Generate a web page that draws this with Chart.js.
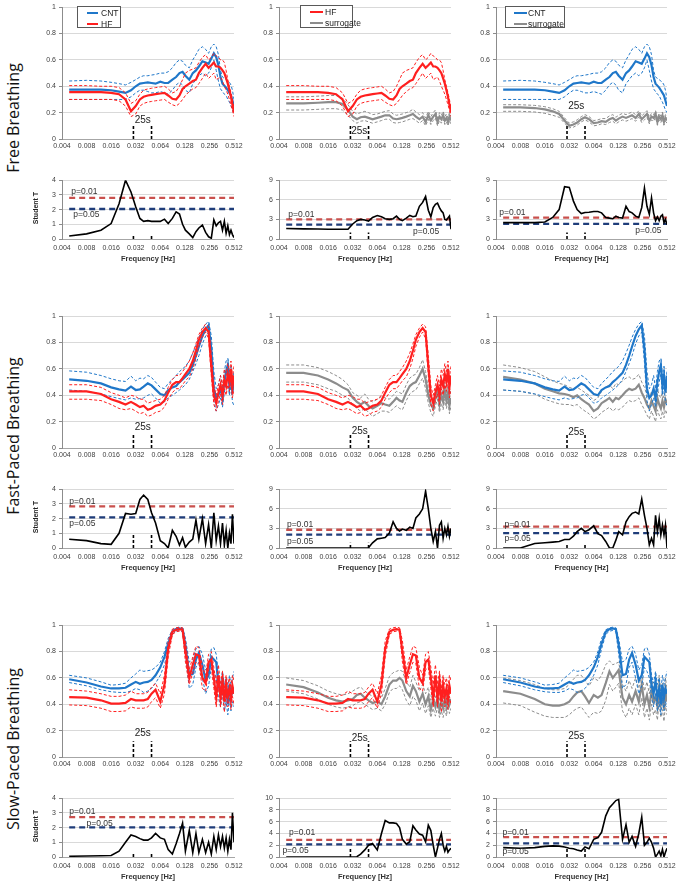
<!DOCTYPE html>
<html><head><meta charset="utf-8">
<script src="https://cdn.jsdelivr.net/npm/chart.js@4.4.1/dist/chart.umd.min.js"></script>
<style>
html,body{margin:0;padding:0;background:#fff}
body{width:685px;height:881px;position:relative;overflow:hidden}
canvas{position:absolute}
.rowtitle{position:absolute;font-family:'Open Sans','Noto Sans',sans-serif;font-size:16px;color:#111;white-space:nowrap;transform:translate(-50%,-50%) rotate(-90deg)}
.ylab{position:absolute;font-family:'Liberation Sans',Arial,sans-serif;font-weight:bold;font-size:7px;color:#222;white-space:nowrap;transform:translate(-50%,-50%) rotate(-90deg)}
.legend{position:absolute;border:1px solid #595959;background:#fff;box-sizing:border-box}
.legend .txt{position:absolute;font-family:'Liberation Sans',Arial,sans-serif;font-size:8.5px;color:#222;line-height:10px;height:10px;white-space:nowrap}
.legend .sw{position:absolute;height:2px}
</style></head><body>
<script>
// ---------------- DATA ----------------
const FREQ = [0.0049,0.008,0.012,0.016,0.02,0.024,0.028,0.032,0.036,0.04,
  0.045,0.05,0.056,0.064,0.072,0.08,0.09,0.1,0.11,0.12,
  0.13,0.145,0.16,0.175,0.19,0.21,0.23,0.25,0.27,0.29,
  0.31,0.33,0.35,0.37,0.39,0.41,0.43,0.45,0.47,0.49,
  0.512];
const X_TICKS = [0.004,0.008,0.016,0.032,0.064,0.128,0.256,0.512];
const X_TICK_LABELS = ['0.004','0.008','0.016','0.032','0.064','0.128','0.256','0.512'];
const MARK_25S = [0.03, 0.05];
const ROW_TITLES = ['Free Breathing','Fast-Paced Breathing','Slow-Paced Breathing'];

// Free breathing coherence
const FREE_CNT_MEAN = [.375,.375,.375,.37,.36,.35,.37,.40,.42,.425, .43,.425,.42,.435,.425,.425,.45,.47,.50,.51, .48,.45,.50,.52,.55,.59,.58,.57,.61,.65, .62,.56,.47,.42,.405,.39,.37,.35,.33,.29, .25];
const FREE_CNT_UP   = [.44,.445,.44,.43,.42,.41,.43,.45,.47,.48, .48,.485,.49,.50,.50,.51,.54,.58,.60,.59, .56,.54,.60,.64,.68,.70,.68,.65,.70,.72, .70,.64,.52,.47,.46,.45,.44,.43,.41,.37, .30];
const FREE_CNT_LO   = [.30,.30,.30,.30,.30,.30,.32,.35,.37,.37, .36,.35,.35,.36,.35,.34,.37,.41,.43,.41, .37,.35,.42,.45,.48,.50,.48,.50,.54,.60, .52,.44,.38,.36,.34,.33,.30,.28,.25,.22, .20];
const FREE_HF_MEAN  = [.355,.355,.355,.35,.34,.30,.21,.25,.30,.32, .33,.335,.34,.345,.35,.33,.305,.30,.33,.38, .40,.42,.44,.45,.50,.54,.57,.54,.56,.58, .55,.55,.54,.52,.50,.46,.42,.37,.32,.26, .20];
const FREE_HF_UP    = [.405,.405,.40,.40,.39,.35,.27,.29,.34,.37, .38,.385,.39,.395,.40,.38,.35,.36,.40,.45, .50,.52,.53,.54,.58,.62,.64,.60,.62,.65, .63,.62,.60,.60,.58,.52,.45,.40,.35,.30, .23];
const FREE_HF_LO    = [.30,.30,.30,.30,.29,.25,.17,.19,.25,.27, .28,.285,.29,.295,.30,.28,.26,.25,.27,.30, .33,.36,.38,.39,.42,.46,.50,.46,.48,.50, .45,.46,.47,.44,.40,.37,.34,.30,.26,.22, .17];
const FREE_SHF_MEAN = [.27,.27,.275,.28,.28,.265,.22,.17,.15,.165, .17,.16,.15,.16,.17,.18,.18,.155,.15,.155, .16,.17,.18,.19,.17,.15,.17,.13,.18,.14, .17,.19,.13,.17,.15,.18,.14,.16,.13,.17, .14];
const FREE_SHF_UP   = [.32,.32,.325,.33,.33,.31,.26,.21,.19,.20, .21,.20,.185,.19,.20,.21,.215,.19,.18,.185, .19,.20,.21,.225,.205,.185,.20,.16,.21,.17, .20,.22,.16,.20,.18,.21,.17,.19,.16,.20, .17];
const FREE_SHF_LO   = [.22,.22,.225,.23,.23,.22,.18,.14,.12,.135, .14,.13,.12,.13,.14,.15,.15,.125,.12,.125, .13,.14,.15,.155,.14,.12,.14,.10,.15,.11, .14,.16,.10,.14,.12,.15,.11,.13,.10,.14, .11];
const FREE_SCNT_MEAN= [.24,.24,.235,.225,.21,.19,.14,.10,.11,.125, .15,.165,.15,.12,.125,.135,.13,.15,.16,.14, .155,.17,.16,.17,.18,.16,.19,.15,.17,.19, .14,.17,.16,.19,.13,.17,.15,.18,.13,.16, .14];
const FREE_SCNT_UP  = [.26,.26,.255,.245,.23,.21,.16,.12,.13,.145, .17,.185,.17,.14,.145,.155,.155,.175,.185,.165, .18,.195,.185,.195,.205,.185,.215,.175,.195,.215, .165,.195,.185,.215,.155,.195,.175,.205,.155,.185, .16];
const FREE_SCNT_LO  = [.21,.21,.205,.195,.18,.165,.12,.085,.09,.105, .13,.145,.13,.10,.105,.115,.11,.125,.135,.115, .13,.145,.135,.145,.155,.135,.165,.125,.145,.165, .115,.145,.135,.165,.105,.145,.125,.155,.105,.135, .12];
// Free breathing Student T
const FREE_T_CNT_HF   = [.2,.35,.6,1.05,2.4,4.0,3.2,2.2,1.4,1.2, 1.25,1.2,1.2,1.2,1.35,1.05,1.4,1.85,1.7,1.0, .6,.35,.1,.5,.75,.95,.45,.15,.05,1.3, .9,1.1,1.2,.6,1.2,.4,.9,.3,.6,.3, .1];
const FREE_T_HF_SURR  = [1.6,1.55,1.52,1.5,1.5,1.5,1.5,2.3,2.8,3.0, 2.9,2.75,3.3,3.6,3.4,3.1,3.0,3.1,3.5,3.0, 2.8,3.2,3.6,3.4,3.5,5.0,5.6,6.5,4.4,3.4, 4.8,5.3,5.5,4.8,4.3,4.0,3.0,2.9,3.2,3.5, 1.5];
const FREE_T_CNT_SURR = [2.5,2.5,2.5,2.6,3.3,4.5,8.0,7.9,5.8,4.5, 3.9,4.05,4.1,4.2,4.2,4.0,3.3,3.2,3.1,3.5, 3.3,3.2,5.0,4.2,4.0,3.5,3.3,4.8,7.8,5.0, 3.8,6.3,4.0,2.8,3.4,2.8,3.5,3.7,2.5,3.0, 2.2];
const FREE_P01 = [2.8, 2.99, 3.28];
const FREE_P05 = [2.04, 2.2, 2.3];

// Fast-paced breathing coherence
const FAST_CNT_MEAN = [.52,.51,.49,.46,.445,.435,.465,.44,.445,.465, .49,.475,.445,.41,.40,.44,.46,.47,.50,.52, .54,.57,.63,.70,.77,.85,.90,.93,.75,.45, .38,.40,.45,.38,.50,.58,.63,.47,.55,.42, .55];
const FAST_CNT_UP   = [.585,.575,.55,.525,.51,.505,.545,.51,.53,.525, .55,.535,.50,.46,.45,.49,.52,.55,.58,.60, .62,.66,.72,.78,.84,.90,.94,.96,.85,.58, .45,.48,.55,.45,.58,.66,.68,.55,.62,.48, .58];
const FAST_CNT_LO   = [.44,.43,.41,.39,.375,.365,.38,.37,.375,.38, .40,.41,.38,.34,.35,.38,.40,.42,.44,.46, .48,.52,.58,.64,.70,.79,.85,.88,.65,.36, .28,.33,.38,.31,.42,.50,.56,.40,.47,.35, .32];
const FAST_HF_MEAN  = [.43,.43,.41,.37,.35,.33,.35,.33,.31,.32, .29,.30,.32,.33,.36,.42,.48,.50,.50,.53, .56,.60,.66,.74,.82,.88,.91,.88,.62,.40, .34,.42,.48,.40,.52,.47,.56,.50,.60,.46, .55];
const FAST_HF_UP    = [.48,.48,.46,.42,.40,.38,.40,.39,.37,.37, .34,.35,.36,.37,.40,.46,.52,.55,.55,.58, .61,.66,.72,.79,.86,.91,.94,.92,.70,.47, .40,.48,.55,.47,.60,.55,.64,.58,.66,.54, .62];
const FAST_HF_LO    = [.37,.37,.36,.33,.30,.29,.30,.28,.26,.27, .24,.25,.27,.28,.31,.37,.42,.45,.45,.48, .51,.54,.60,.68,.77,.84,.88,.83,.55,.33, .28,.36,.41,.33,.45,.40,.48,.43,.52,.38, .45];
const FAST_SHF_MEAN = [.57,.57,.55,.52,.49,.46,.44,.38,.35,.33, .35,.32,.30,.32,.34,.33,.32,.35,.38,.36, .35,.42,.47,.49,.50,.55,.60,.52,.40,.33, .30,.38,.43,.33,.40,.35,.44,.36,.42,.32, .38];
const FAST_SHF_UP   = [.63,.63,.61,.58,.55,.52,.48,.42,.40,.38, .41,.37,.35,.37,.39,.38,.37,.40,.43,.42, .41,.48,.53,.55,.56,.61,.67,.58,.45,.38, .35,.44,.49,.38,.46,.41,.50,.42,.48,.37, .44];
const FAST_SHF_LO   = [.50,.50,.48,.45,.43,.40,.38,.33,.30,.28, .30,.27,.24,.26,.28,.28,.27,.30,.32,.30, .29,.36,.41,.43,.44,.49,.53,.45,.34,.27, .24,.32,.37,.27,.34,.29,.37,.30,.36,.26, .32];
const FAST_SCNT_MEAN= [.54,.52,.49,.45,.43,.415,.41,.40,.385,.40, .37,.35,.33,.28,.30,.34,.36,.38,.35,.38, .37,.40,.43,.45,.44,.45,.48,.42,.38,.33, .30,.36,.32,.28,.38,.33,.30,.36,.31,.37, .34];
const FAST_SCNT_UP  = [.63,.61,.58,.54,.51,.49,.48,.46,.45,.46, .44,.42,.40,.36,.38,.43,.46,.48,.45,.49, .48,.51,.53,.54,.52,.53,.56,.50,.46,.40, .37,.43,.40,.35,.45,.40,.38,.43,.38,.44, .41];
const FAST_SCNT_LO  = [.44,.43,.41,.37,.35,.335,.33,.33,.32,.33, .30,.28,.26,.22,.24,.27,.29,.31,.28,.30, .29,.31,.34,.36,.35,.36,.38,.33,.29,.25, .22,.28,.24,.20,.29,.25,.22,.28,.23,.29, .26];
// Fast-paced Student T
const FAST_T_CNT_HF   = [.6,.5,.3,.25,1.0,2.35,2.3,2.35,3.3,3.6, 3.3,2.4,1.7,.5,.3,0,1.2,.8,.2,.7, .05,.4,.6,1.9,.6,2.0,.3,1.6,0,2.4, .5,1.5,.3,1.7,.2,1.2,0,1.0,.3,2.3, .3];
const FAST_T_HF_SURR  = [0,0,0,0,0,0,0,0,0,0, 0,.05,.8,1.4,1.5,1.6,2.3,4.0,3.0,2.6, 2.9,2.7,3.2,3.0,4.6,5.2,6.0,8.7,6.0,3.0, 1.0,2.5,0,3.5,4.0,1.5,3.0,2.0,3.3,1.8, 3.0];
const FAST_T_CNT_SURR = [0,0,.7,.8,.9,1.0,1.3,1.3,1.8,2.5, 3.0,2.5,2.8,3.4,2.2,1.9,1.0,0,0,1.2, 2.5,2.0,4.0,4.8,5.3,5.5,5.2,7.5,5.0,3.0, .5,1.5,.5,5.0,2.5,4.5,2.0,3.5,2.0,3.5, 0];
const FAST_P01 = [2.83, 2.79, 3.28];
const FAST_P05 = [2.08, 2.04, 2.29];

// Slow-paced breathing coherence
const SLOW_CNT_MEAN = [.59,.565,.535,.52,.52,.525,.55,.57,.555,.565, .57,.585,.62,.68,.76,.86,.95,.97,.975,.97, .85,.62,.63,.74,.79,.70,.58,.62,.76,.74, .72,.55,.48,.58,.45,.52,.40,.55,.45,.52, .48];
const SLOW_CNT_UP   = [.62,.60,.57,.545,.55,.56,.60,.63,.66,.65, .655,.66,.68,.72,.80,.90,.965,.98,.985,.98, .90,.72,.74,.82,.84,.78,.66,.70,.82,.83, .78,.62,.56,.65,.55,.60,.50,.62,.55,.60, .65];
const SLOW_CNT_LO   = [.565,.54,.51,.495,.49,.49,.50,.52,.51,.49, .50,.52,.56,.62,.70,.82,.93,.955,.96,.95, .78,.52,.55,.68,.72,.60,.48,.54,.68,.65, .60,.45,.38,.48,.35,.42,.32,.45,.35,.42, .38];
const SLOW_HF_MEAN  = [.455,.45,.43,.405,.405,.41,.44,.43,.43,.43, .44,.48,.51,.42,.55,.82,.95,.965,.97,.965, .80,.60,.70,.78,.77,.60,.56,.72,.74,.60, .45,.62,.45,.58,.42,.55,.46,.52,.44,.54, .48];
const SLOW_HF_UP    = [.51,.50,.48,.46,.46,.47,.50,.48,.48,.48, .49,.53,.56,.48,.62,.88,.97,.98,.985,.98, .88,.66,.76,.84,.83,.68,.62,.78,.80,.68, .55,.70,.55,.65,.52,.62,.55,.60,.52,.62, .58];
const SLOW_HF_LO    = [.395,.39,.37,.345,.345,.35,.38,.37,.37,.37, .38,.42,.45,.37,.48,.76,.93,.95,.955,.95, .72,.55,.64,.72,.71,.52,.50,.66,.68,.52, .38,.54,.38,.50,.34,.48,.38,.45,.36,.46, .40];
const SLOW_SHF_MEAN = [.55,.53,.49,.45,.43,.42,.43,.44,.47,.48, .45,.43,.41,.42,.40,.46,.55,.58,.58,.60, .58,.50,.46,.54,.50,.42,.48,.40,.46,.36, .44,.38,.45,.36,.42,.37,.44,.38,.46,.40, .44];
const SLOW_SHF_UP   = [.60,.58,.54,.50,.48,.47,.48,.50,.52,.53, .50,.48,.46,.47,.45,.52,.61,.64,.65,.66, .65,.57,.53,.62,.57,.50,.55,.48,.53,.43, .51,.45,.52,.43,.49,.44,.51,.45,.53,.47, .50];
const SLOW_SHF_LO   = [.50,.48,.44,.40,.38,.37,.38,.39,.41,.42, .40,.38,.36,.37,.35,.40,.49,.52,.52,.54, .51,.43,.39,.46,.43,.35,.41,.33,.39,.30, .37,.31,.38,.30,.35,.30,.37,.31,.39,.33, .37];
const SLOW_SCNT_MEAN= [.50,.48,.44,.40,.39,.39,.40,.42,.46,.49, .50,.46,.41,.47,.45,.47,.56,.65,.60,.63, .66,.45,.40,.47,.42,.50,.42,.55,.40,.47, .38,.50,.42,.46,.38,.52,.40,.46,.36,.50, .42];
const SLOW_SCNT_UP  = [.60,.58,.55,.52,.51,.51,.52,.55,.59,.62, .62,.58,.54,.60,.58,.62,.70,.73,.70,.71, .72,.55,.50,.58,.52,.60,.52,.64,.50,.57, .48,.60,.52,.56,.48,.62,.50,.56,.46,.60, .52];
const SLOW_SCNT_LO  = [.41,.39,.34,.31,.30,.30,.30,.32,.35,.37, .38,.34,.30,.34,.33,.35,.43,.55,.50,.53, .56,.35,.30,.37,.32,.40,.32,.45,.30,.37, .28,.40,.32,.36,.28,.42,.30,.36,.27,.40, .32];
// Slow-paced Student T
const SLOW_T_CNT_HF   = [.05,.07,.08,.1,.4,1.0,1.5,1.4,1.25,1.15, 1.15,1.3,1.6,1.3,1.2,.5,.2,.9,1.6,2.3, .4,1.8,.3,1.6,.3,1.2,.3,1.0,.2,1.4, .5,1.5,.7,1.4,.6,1.3,.4,1.2,.5,3.0, 1.0];
const SLOW_T_HF_SURR  = [0,0,0,0,0,0,0,0,.05,.5, 1.2,2.0,2.3,1.2,4.0,6.2,5.8,5.8,5.7,5.0, 3.0,2.2,2.6,5.3,4.6,3.9,3.7,2.6,5.4,4.5, 2.0,0,1.5,3.0,4.0,2.0,1.0,1.8,.8,1.2, 1.5];
const SLOW_T_CNT_SURR = [1.6,1.5,1.6,1.8,1.9,1.85,1.7,1.5,1.4,1.2, 1.0,1.7,1.4,3.0,3.3,4.2,7.0,8.4,9.0,9.6, 9.8,3.0,5.5,2.5,3.5,1.8,4.0,6.8,2.0,2.5, 3.2,2.5,1.5,0,.5,1.0,.2,1.3,0,.8, 1.5];
const SLOW_P01 = [2.71, 2.9, 3.39];
const SLOW_P05 = [2.02, 2.15, 2.31];

const T_MAX  = [[4,9,9],[4,9,9],[4,10,10]];
const T_STEP = [[1,3,3],[1,3,3],[1,2,2]];

// ---------------- STYLE / LAYOUT ----------------
const BLUE = '#1f77c9', RED = '#ff1f1f', GRAY = '#8c8c8c';
const P01_COLOR = '#c9504d', P05_COLOR = '#1f3d7a';
const TF = "'Liberation Sans Narrow','Liberation Sans',Arial,sans-serif";
const COLS = [{l:62,r:234},{l:279,r:451},{l:496,r:667}];
const ROW_OFF = [0,309,618];
const COH_BOX = {top:5,bottom:139};
const T_BOX = {top:178,bottom:239};
const YW = 30, PT = 5, PR = 14;

const ALL = {FREE_CNT_MEAN,FREE_CNT_UP,FREE_CNT_LO,FREE_HF_MEAN,FREE_HF_UP,FREE_HF_LO,FREE_SHF_MEAN,FREE_SHF_UP,FREE_SHF_LO,FREE_SCNT_MEAN,FREE_SCNT_UP,FREE_SCNT_LO,FREE_T_CNT_HF,FREE_T_HF_SURR,FREE_T_CNT_SURR,
 FAST_CNT_MEAN,FAST_CNT_UP,FAST_CNT_LO,FAST_HF_MEAN,FAST_HF_UP,FAST_HF_LO,FAST_SHF_MEAN,FAST_SHF_UP,FAST_SHF_LO,FAST_SCNT_MEAN,FAST_SCNT_UP,FAST_SCNT_LO,FAST_T_CNT_HF,FAST_T_HF_SURR,FAST_T_CNT_SURR,
 SLOW_CNT_MEAN,SLOW_CNT_UP,SLOW_CNT_LO,SLOW_HF_MEAN,SLOW_HF_UP,SLOW_HF_LO,SLOW_SHF_MEAN,SLOW_SHF_UP,SLOW_SHF_LO,SLOW_SCNT_MEAN,SLOW_SCNT_UP,SLOW_SCNT_LO,SLOW_T_CNT_HF,SLOW_T_HF_SURR,SLOW_T_CNT_SURR};
const bad = Object.entries(ALL).filter(([k,v])=>v.length!==FREQ.length).map(([k,v])=>k+':'+v.length);
if (bad.length) throw new Error('length mismatch '+bad.join(','));

const textPlugin = {
  id:'textMarks',
  afterDatasetsDraw(chart, args, opts){
    const items = (opts && opts.items) || [];
    const ctx = chart.ctx, xs = chart.scales.x, ys = chart.scales.y;
    ctx.save();
    for (const it of items){
      ctx.font = it.font; ctx.fillStyle = it.color || '#222';
      ctx.textAlign = it.align || 'left'; ctx.textBaseline = 'middle';
      ctx.fillText(it.text, xs.getPixelForValue(it.x), ys.getPixelForValue(it.y));
    }
    ctx.restore();
  }
};

function pts(arr){ return FREQ.map((f,i)=>({x:f,y:arr[i]})); }
function ln(arr,color,width,dash){ return {data:pts(arr),borderColor:color,borderWidth:width,borderDash:dash||[],pointRadius:0,fill:false,tension:0}; }
function markers(h){ return MARK_25S.map(m=>({data:[{x:m,y:0},{x:m,y:h}],borderColor:'#000',borderWidth:1.6,borderDash:[3,2],pointRadius:0,fill:false})); }
function hline(v,color){ return {data:[{x:FREQ[0],y:v},{x:FREQ[FREQ.length-1],y:v}],borderColor:color,borderWidth:2.3,borderDash:[6,4],pointRadius:0,fill:false}; }
function group(m,u,l,color){ return [ln(m,color,2.2),ln(u,color,1,[3,2]),ln(l,color,1,[3,2])]; }

function makeCanvas(left, top, w, h){
  const c = document.createElement('canvas');
  c.width = w; c.height = h;
  c.style.left = left+'px'; c.style.top = top+'px'; c.style.width = w+'px'; c.style.height = h+'px';
  document.body.appendChild(c);
  return c;
}

function options(ymax, ystep, xh, tickPad, withTitle, items){
  return {
    responsive:false, animation:false, devicePixelRatio:1, events:[],
    layout:{padding:{top:PT,right:PR,left:0,bottom:0}},
    plugins:{legend:{display:false}, tooltip:{enabled:false}, textMarks:{items}},
    scales:{
      x:{type:'logarithmic', min:0.004, max:0.512,
        afterBuildTicks:s=>{ s.ticks = X_TICKS.map(v=>({value:v})); },
        afterFit:s=>{ s.height = xh; },
        ticks:{autoSkip:false,maxRotation:0,minRotation:0,padding:tickPad,font:{family:TF,size:7},color:'#404040',
          callback:(v,i)=>X_TICK_LABELS[i]},
        grid:{display:false,drawTicks:false,tickLength:0},
        border:{display:true,color:'#a6a6a6',width:1},
        title:{display:withTitle,text:'Frequency [Hz]',font:{family:"'Liberation Sans',Arial,sans-serif",size:7.5,weight:'bold'},color:'#333',padding:{top:0,bottom:0}}
      },
      y:{type:'linear', min:0, max:ymax,
        afterFit:s=>{ s.width = YW; },
        ticks:{stepSize:ystep,padding:3,font:{family:TF,size:7},color:'#404040',callback:v=>String(Math.round(v*100)/100)},
        grid:{color:c=>c.tick && c.tick.value===0 ? 'rgba(0,0,0,0)' : '#d9d9d9',lineWidth:1,tickLength:3,tickColor:'#8c8c8c'},
        border:{display:true,color:'#8c8c8c',width:1}
      }
    }
  };
}

function drawCoh(row, col, datasets, label25){
  const c = COLS[col], off = ROW_OFF[row];
  const w = YW + (c.r - c.l) + PR, h = PT + (COH_BOX.bottom - COH_BOX.top) + 14;
  const cv = makeCanvas(c.l - YW, COH_BOX.top + off - PT, w, h);
  const items = [{x:label25[0],y:label25[1],text:'25s',font:"10px 'Liberation Sans',Arial,sans-serif",color:'#222',align:'center'}];
  new Chart(cv, {type:'line', data:{datasets:[...markers(label25[2]), ...datasets]}, options:options(1,0.2,14,3,false,items), plugins:[textPlugin]});
}

function drawT(row, col, tdata, p01, p05, markH, lab01, lab05){
  const c = COLS[col], off = ROW_OFF[row];
  const w = YW + (c.r - c.l) + PR, h = PT + (T_BOX.bottom - T_BOX.top) + 24;
  const cv = makeCanvas(c.l - YW, T_BOX.top + off - PT, w, h);
  const f = "8.5px 'Liberation Sans',Arial,sans-serif";
  const items = [{x:lab01[0],y:lab01[1],text:'p=0.01',font:f,color:'#333'},{x:lab05[0],y:lab05[1],text:'p=0.05',font:f,color:'#333'}];
  new Chart(cv, {type:'line', data:{datasets:[ln(tdata,'#000',1.6), ...markers(markH), hline(p01,P01_COLOR), hline(p05,P05_COLOR)]},
    options:options(T_MAX[row][col],T_STEP[row][col],24,5,true,items), plugins:[textPlugin]});
}

// ---------------- FIGURE ----------------
// Row 1: Free breathing
drawCoh(0,0,[...group(FREE_HF_MEAN,FREE_HF_UP,FREE_HF_LO,RED),...group(FREE_CNT_MEAN,FREE_CNT_UP,FREE_CNT_LO,BLUE)],[0.039,0.145,0.105]);
drawCoh(0,1,[...group(FREE_HF_MEAN,FREE_HF_UP,FREE_HF_LO,RED),...group(FREE_SHF_MEAN,FREE_SHF_UP,FREE_SHF_LO,GRAY)],[0.0385,0.06,0.105]);
drawCoh(0,2,[...group(FREE_CNT_MEAN,FREE_CNT_UP,FREE_CNT_LO,BLUE),...group(FREE_SCNT_MEAN,FREE_SCNT_UP,FREE_SCNT_LO,GRAY)],[0.039,0.25,0.105]);
drawT(0,0,FREE_T_CNT_HF,FREE_P01[0],FREE_P05[0],0.3,[0.0052,3.2],[0.0055,1.67]);
drawT(0,1,FREE_T_HF_SURR,FREE_P01[1],FREE_P05[1],1.0,[0.0052,3.8],[0.175,1.2]);
drawT(0,2,FREE_T_CNT_SURR,FREE_P01[2],FREE_P05[2],1.0,[0.0044,4.1],[0.208,1.3]);
// Row 2: Fast-paced
drawCoh(1,0,[...group(FAST_HF_MEAN,FAST_HF_UP,FAST_HF_LO,RED),...group(FAST_CNT_MEAN,FAST_CNT_UP,FAST_CNT_LO,BLUE)],[0.039,0.155,0.1]);
drawCoh(1,1,[...group(FAST_HF_MEAN,FAST_HF_UP,FAST_HF_LO,RED),...group(FAST_SHF_MEAN,FAST_SHF_UP,FAST_SHF_LO,GRAY)],[0.039,0.13,0.1]);
drawCoh(1,2,[...group(FAST_CNT_MEAN,FAST_CNT_UP,FAST_CNT_LO,BLUE),...group(FAST_SCNT_MEAN,FAST_SCNT_UP,FAST_SCNT_LO,GRAY)],[0.039,0.12,0.1]);
drawT(1,0,FAST_T_CNT_HF,FAST_P01[0],FAST_P05[0],1.0,[0.0049,3.16],[0.0049,1.68]);
drawT(1,1,FAST_T_HF_SURR,FAST_P01[1],FAST_P05[1],0.8,[0.005,3.6],[0.005,1.0]);
drawT(1,2,FAST_T_CNT_SURR,FAST_P01[2],FAST_P05[2],0.7,[0.0051,3.5],[0.0051,1.4]);
// Row 3: Slow-paced
drawCoh(2,0,[...group(SLOW_HF_MEAN,SLOW_HF_UP,SLOW_HF_LO,RED),...group(SLOW_CNT_MEAN,SLOW_CNT_UP,SLOW_CNT_LO,BLUE)],[0.039,0.18,0.12]);
drawCoh(2,1,[...group(SLOW_HF_MEAN,SLOW_HF_UP,SLOW_HF_LO,RED),...group(SLOW_SHF_MEAN,SLOW_SHF_UP,SLOW_SHF_LO,GRAY)],[0.039,0.14,0.12]);
drawCoh(2,2,[...group(SLOW_CNT_MEAN,SLOW_CNT_UP,SLOW_CNT_LO,BLUE),...group(SLOW_SCNT_MEAN,SLOW_SCNT_UP,SLOW_SCNT_LO,GRAY)],[0.039,0.16,0.12]);
drawT(2,0,SLOW_T_CNT_HF,SLOW_P01[0],SLOW_P05[0],0.2,[0.0049,3.07],[0.008,2.3]);
drawT(2,1,SLOW_T_HF_SURR,SLOW_P01[1],SLOW_P05[1],1.5,[0.0053,4.2],[0.0044,1.0]);
drawT(2,2,SLOW_T_CNT_SURR,SLOW_P01[2],SLOW_P05[2],1.5,[0.0048,4.2],[0.0048,0.9]);

// ---------------- TEXT OVERLAYS ----------------
function addDiv(cls, text, x, y){ const d=document.createElement('div'); d.className=cls; d.textContent=text; d.style.left=x+'px'; d.style.top=y+'px'; document.body.appendChild(d); return d; }
const TITLE_Y = [118, 436, 749];
ROW_TITLES.forEach((t,i)=>addDiv('rowtitle',t,13,TITLE_Y[i]));
[208,517,826].forEach(y=>addDiv('ylab','Student T',35,y));

const LEGENDS = [
  {box:[77,6,44,22], items:[['CNT',BLUE],['HF',RED]], sw:[9,11], tx:23},
  {box:[300,5,53,23], items:[['HF',RED],['surrogate',GRAY]], sw:[9,13], tx:24},
  {box:[505,6,60,22], items:[['CNT',BLUE],['surrogate',GRAY]], sw:[8,13], tx:22}
];
for (const L of LEGENDS){
  const d = document.createElement('div'); d.className='legend';
  d.style.left=L.box[0]+'px'; d.style.top=L.box[1]+'px'; d.style.width=L.box[2]+'px'; d.style.height=L.box[3]+'px';
  L.items.forEach(([name,color],i)=>{
    const cy = 6 + i*10.5;
    const s = document.createElement('div'); s.className='sw'; s.style.background=color; s.style.left=L.sw[0]+'px'; s.style.width=L.sw[1]+'px'; s.style.top=(cy-1)+'px'; d.appendChild(s);
    const t = document.createElement('div'); t.className='txt'; t.textContent=name; t.style.left=L.tx+'px'; t.style.top=(cy-5)+'px'; d.appendChild(t);
  });
  document.body.appendChild(d);
}
</script>
</body></html>
